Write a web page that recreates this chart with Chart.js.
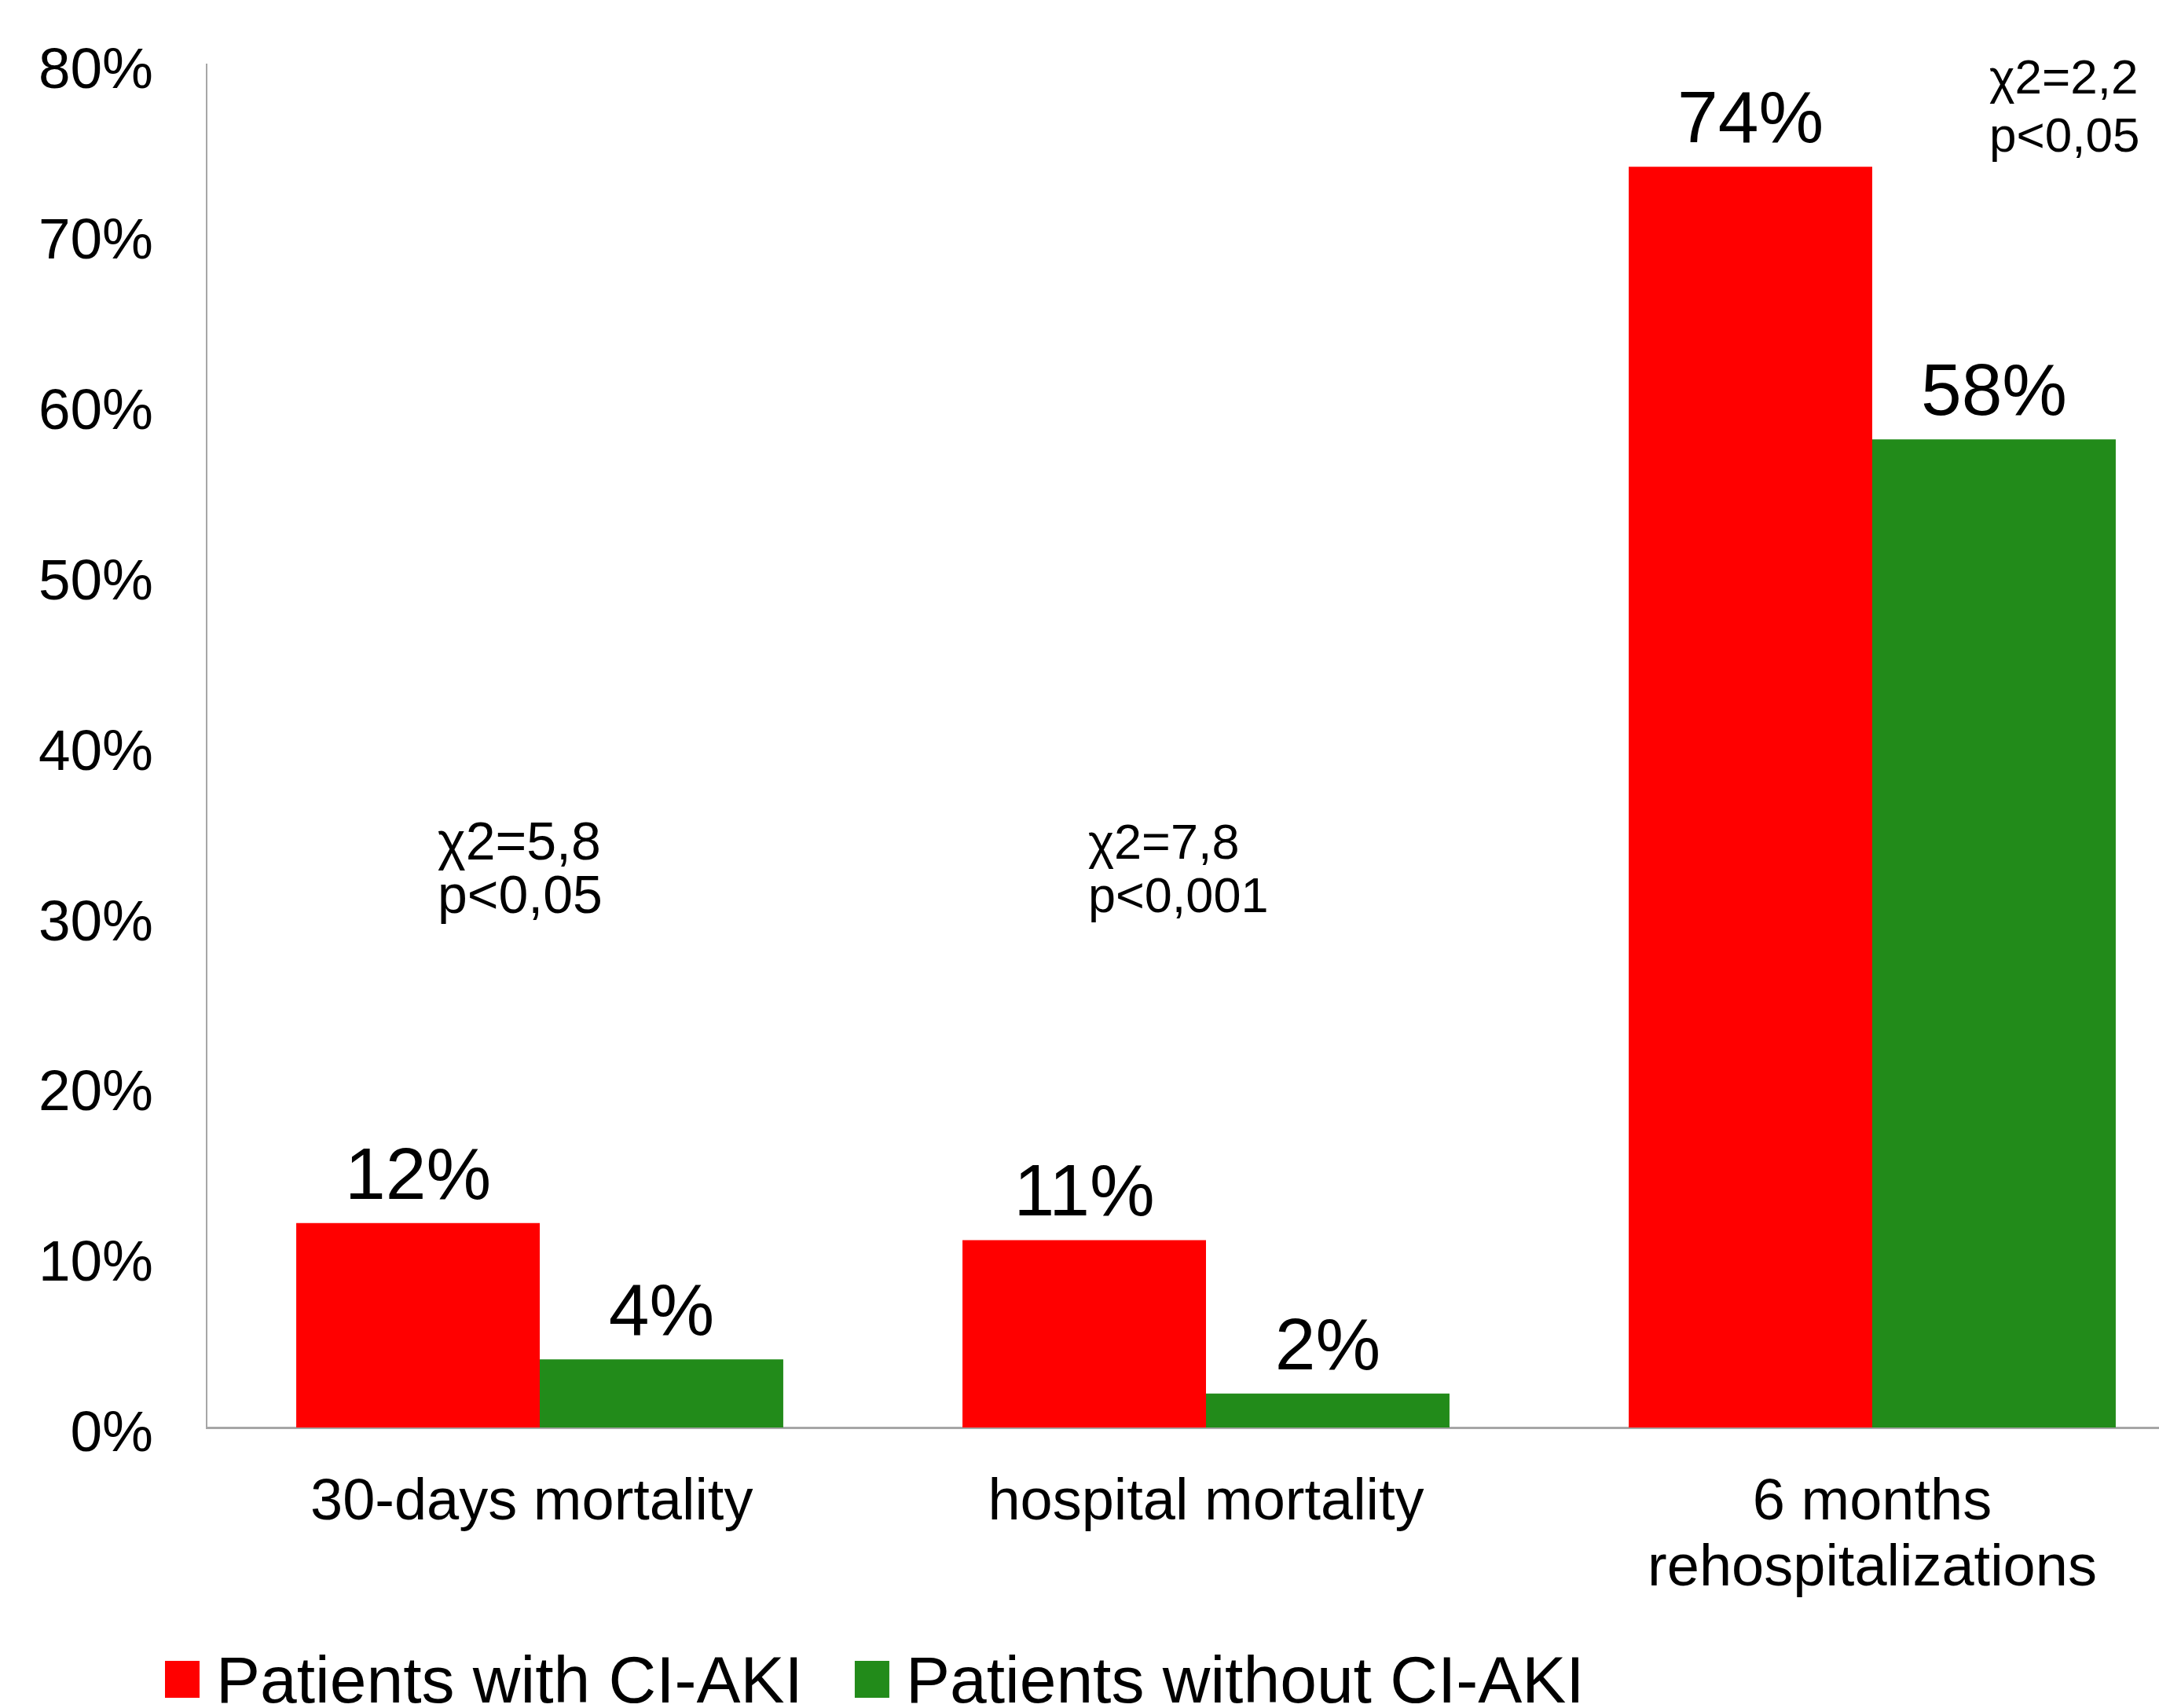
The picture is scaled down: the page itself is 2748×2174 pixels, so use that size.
<!DOCTYPE html>
<html>
<head>
<meta charset="utf-8">
<script src="https://cdn.jsdelivr.net/npm/chart.js@4.4.1/dist/chart.umd.min.js"></script>
<style>
  html, body { margin: 0; padding: 0; background: #ffffff; overflow: hidden; }
  #wrap { width: 2820px; height: 2174px; }
</style>
</head>
<body>
<div id="wrap"><canvas id="c" width="2820" height="2174" style="width:2820px;height:2174px"></canvas></div>
<script>
// Outcomes by CI-AKI status (percent of patients)
const categories = ['30-days mortality ', 'hospital mortality', ['6 months', 'rehospitalizations']];
const seriesNames = ['Patients with CI-AKI', 'Patients without CI-AKI'];
const withAKI = [12, 11, 74];
const withoutAKI = [4, 2, 58];
const yTickValues = [0, 10, 20, 30, 40, 50, 60, 70, 80];
const statTexts = [
  ['\u03C72=5,8', 'p<0,05'],
  ['\u03C72=7,8', 'p<0,001'],
  ['\u03C72=2,2', 'p<0,05']
];

const FONT = '"Liberation Sans", Arial, sans-serif';
const seriesColors = ['#FF0000', '#228B1A'];

// Where each statistics block sits: category index, pixel shift from the
// category centre, y value of its first text line, font size and line gap.
const statPlacement = [
  { cat: 0, dx: -130, y: 34.2, size: 68, gap: 68 },
  { cat: 1, dx: -150, y: 34.2, size: 63, gap: 68 },
  { cat: 2, dx: 149, y: 79.1, size: 62, gap: 74 }
];

const valueLabels = {
  id: 'valueLabels',
  afterDatasetsDraw(chart) {
    const ctx = chart.ctx;
    ctx.save();
    ctx.font = '93px ' + FONT;
    ctx.fillStyle = '#000';
    ctx.textAlign = 'center';
    ctx.textBaseline = 'alphabetic';
    chart.data.datasets.forEach((ds, di) => {
      const meta = chart.getDatasetMeta(di);
      meta.data.forEach((bar, i) => {
        ctx.fillText(ds.data[i] + '%', bar.x, bar.y - 31);
      });
    });
    ctx.restore();
  }
};

const statNotes = {
  id: 'statNotes',
  afterDraw(chart) {
    const ctx = chart.ctx;
    const xs = chart.scales.x, ys = chart.scales.y;
    ctx.save();
    ctx.fillStyle = '#000';
    ctx.textAlign = 'left';
    ctx.textBaseline = 'middle';
    statTexts.forEach((lines, k) => {
      const p = statPlacement[k];
      ctx.font = p.size + 'px ' + FONT;
      const x = xs.getPixelForValue(p.cat) + p.dx;
      const y0 = ys.getPixelForValue(p.y);
      lines.forEach((t, j) => ctx.fillText(t, x, y0 + j * p.gap));
    });
    ctx.restore();
  }
};

const bottomLegend = {
  id: 'bottomLegend',
  afterDraw(chart) {
    const ctx = chart.ctx;
    ctx.save();
    ctx.font = '84px ' + FONT;
    ctx.textBaseline = 'middle';
    ctx.textAlign = 'left';
    let x = 210;
    const yc = 2138;
    chart.data.datasets.forEach((ds) => {
      ctx.fillStyle = ds.backgroundColor;
      ctx.fillRect(x, yc - 24, 44, 47);
      ctx.fillStyle = '#000';
      ctx.fillText(ds.label, x + 65, yc + 6);
      x += 65 + ctx.measureText(ds.label).width + 66;
    });
    ctx.restore();
  }
};

new Chart(document.getElementById('c'), {
  type: 'bar',
  data: {
    labels: categories,
    datasets: [
      { label: seriesNames[0], data: withAKI, backgroundColor: seriesColors[0] },
      { label: seriesNames[1], data: withoutAKI, backgroundColor: seriesColors[1] }
    ]
  },
  options: {
    responsive: false,
    animation: false,
    devicePixelRatio: 1,
    layout: { padding: { top: 82, right: 13, bottom: 0, left: 0 } },
    datasets: { bar: { categoryPercentage: 0.731, barPercentage: 1.0 } },
    plugins: { legend: { display: false }, tooltip: { enabled: false } },
    scales: {
      x: {
        grid: { display: false, drawTicks: false },
        border: { display: true, color: '#A6A6A6', width: 3 },
        ticks: {
          color: '#000',
          font: { family: FONT, size: 74, lineHeight: 1.14 },
          padding: 54,
          maxRotation: 0,
          autoSkip: false
        },
        afterFit(s) { s.height = 2174 - 1817; }
      },
      y: {
        min: 0,
        max: 80,
        afterBuildTicks(s) { s.ticks = yTickValues.map(v => ({ value: v })); },
        grid: { display: false, drawTicks: false },
        border: { display: true, color: '#A6A6A6', width: 2 },
        ticks: {
          color: '#000',
          font: { family: FONT, size: 73 },
          padding: 68,
          labelOffset: 10,
          callback: v => v + '%'
        },
        afterFit(s) {
          s.width = 263;
          s.paddingTop = 0;
          s.paddingBottom = 0;
        }
      }
    }
  },
  plugins: [valueLabels, statNotes, bottomLegend]
});
</script>
</body>
</html>
